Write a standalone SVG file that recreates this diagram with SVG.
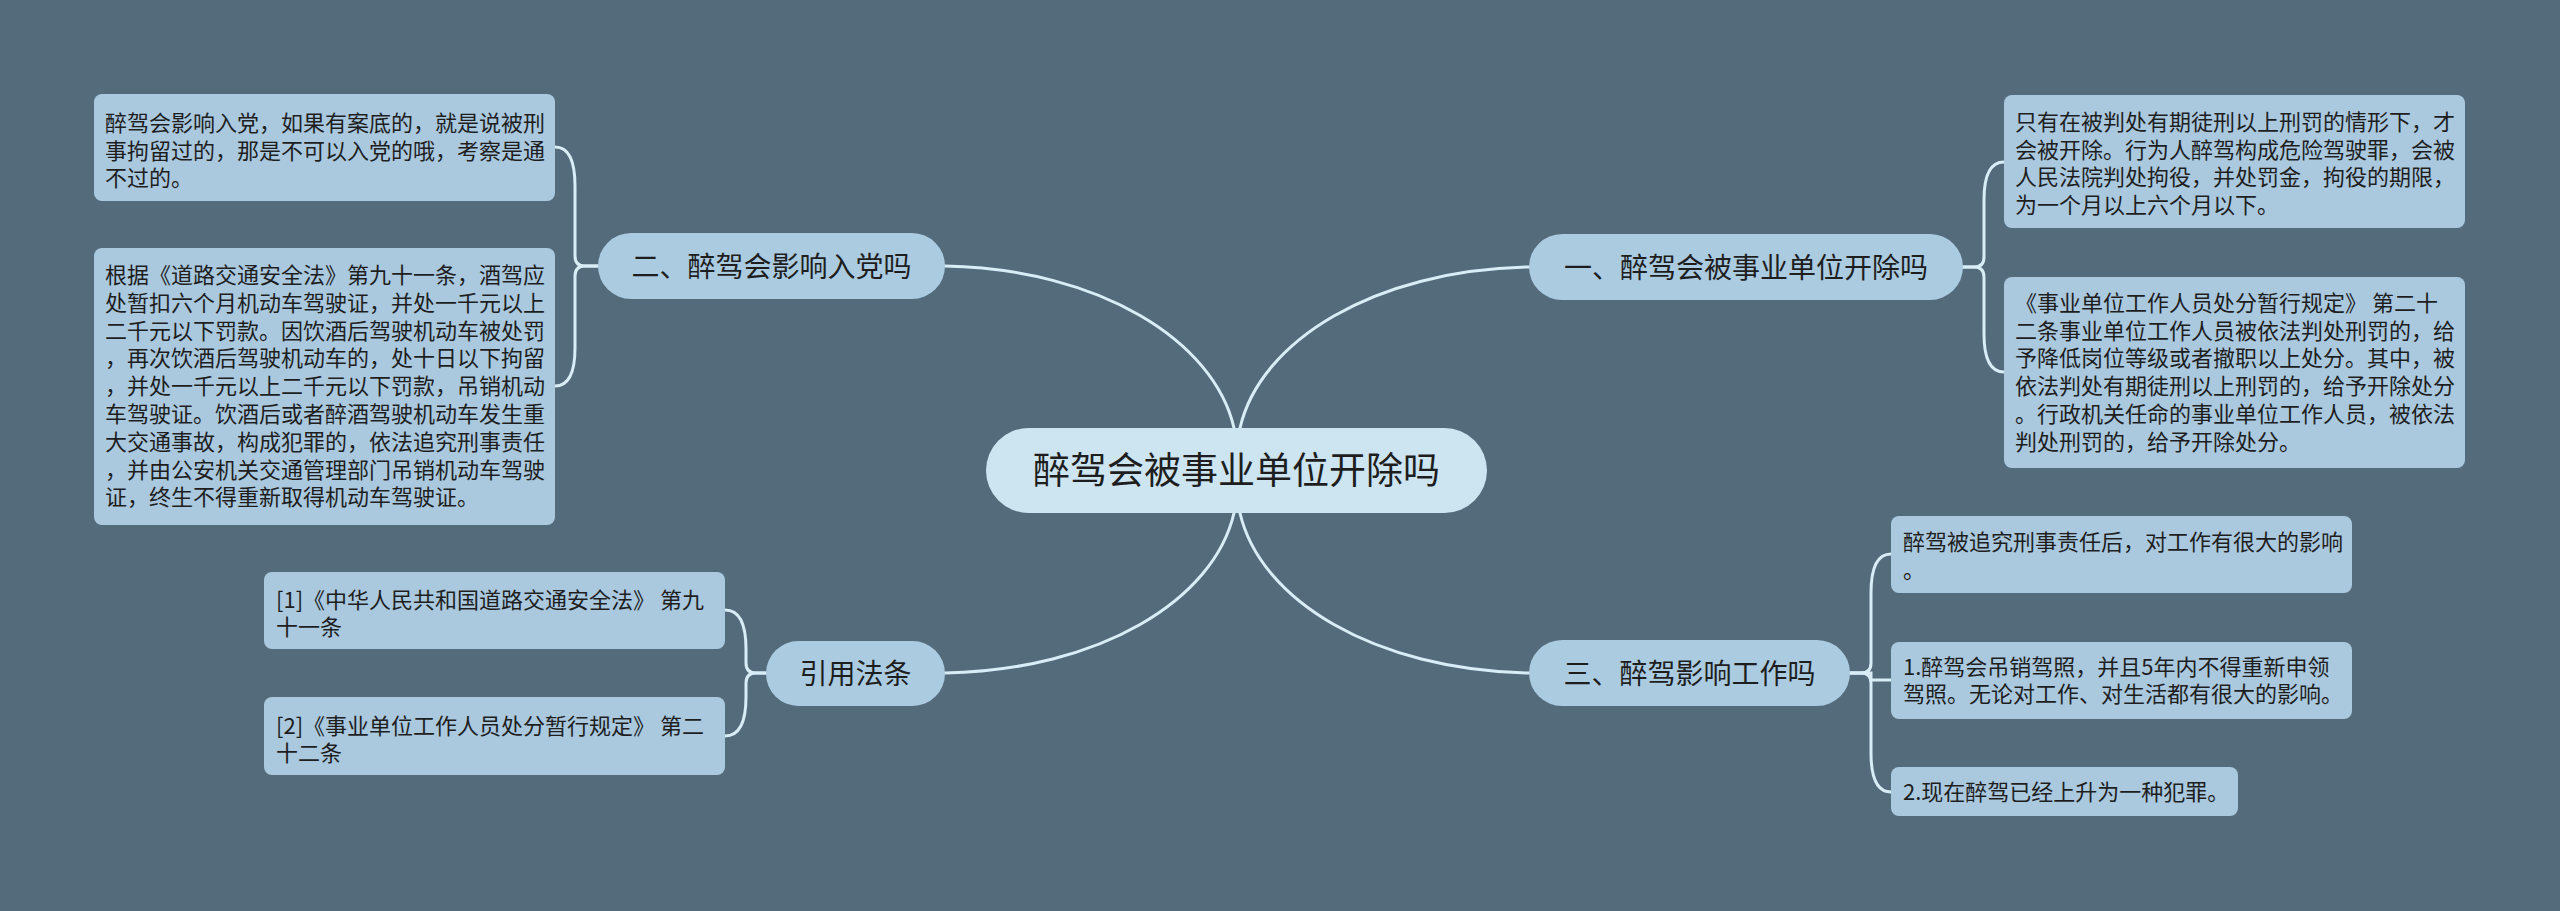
<svg xmlns="http://www.w3.org/2000/svg" width="2560" height="911" viewBox="0 0 2560 911">
<style>
.bg{fill:#546b7b}
.conn path{fill:none;stroke:#d9edf7;stroke-width:3;stroke-linecap:round}
.leaf rect{fill:#aac9df}
.l1 rect{fill:#abcbe1}
.root rect{fill:#cde4f1}
text{font-family:"Noto Sans CJK SC","Noto Sans",sans-serif;fill:#1e1e1e}
.leaf text{font-size:22px}
.l1 text{font-size:28px;text-anchor:middle}
.root text{font-size:37px;text-anchor:middle}
</style>
<rect class="bg" x="0" y="0" width="2560" height="911"/>
<g id="connectors" class="conn">
<path d="M1234 428 C1214 341 1100 269 945 266"/>
<path d="M1240 428 C1260 341 1374 270 1529 267"/>
<path d="M1234 513 C1214 600 1100 670 945 673"/>
<path d="M1240 513 C1260 600 1374 670 1529 673"/>
<path d="M598 266 H585 Q575 266 575 256 V186 C575 160 568 147 555 147"/>
<path d="M598 266 H585 Q575 266 575 276 V348 C575 374 568 386 555 386"/>
<path d="M1963 267 H1974 Q1984 267 1984 257 V200 C1984 174 1991 162 2004 162"/>
<path d="M1963 267 H1974 Q1984 267 1984 277 V334 C1984 360 1991 372 2004 372"/>
<path d="M1850 673 H1861 Q1871 673 1871 663 V593 C1871 567 1878 554 1891 554"/>
<path d="M1850 673 H1871 V680 H1891"/>
<path d="M1850 673 H1861 Q1871 673 1871 683 V753 C1871 779 1878 792 1891 792"/>
<path d="M766 673 H756 Q746 673 746 663 V649 C746 623 739 610 725 610"/>
<path d="M766 673 H756 Q746 673 746 683 V697 C746 723 739 736 725 736"/>
</g>
<g id="root" class="root">
<rect x="986" y="428" width="501" height="85" rx="42.5"/>
<text x="1236.5" y="484">醉驾会被事业单位开除吗</text>
</g>
<g id="n1" class="l1">
<rect x="1529" y="234" width="434" height="66" rx="33"/>
<text x="1746" y="277.5">一、醉驾会被事业单位开除吗</text>
</g>
<g id="n2" class="l1">
<rect x="598" y="233" width="347" height="66" rx="33"/>
<text x="771.5" y="276.5">二、醉驾会影响入党吗</text>
</g>
<g id="n3" class="l1">
<rect x="1529" y="640" width="321" height="66" rx="33"/>
<text x="1689.5" y="683.5">三、醉驾影响工作吗</text>
</g>
<g id="n4" class="l1">
<rect x="766" y="641" width="179" height="65" rx="32.5"/>
<text x="855.5" y="683.5">引用法条</text>
</g>
<g id="leaf-l1" class="leaf">
<rect x="94" y="94" width="461" height="107" rx="8"/>
<text x="105" y="131">醉驾会影响入党，如果有案底的，就是说被刑</text>
<text x="105" y="158.5">事拘留过的，那是不可以入党的哦，考察是通</text>
<text x="105" y="186">不过的。</text>
</g>
<g id="leaf-l2" class="leaf">
<rect x="94" y="248" width="461" height="277" rx="8"/>
<text x="105" y="283">根据《道路交通安全法》第九十一条，酒驾应</text>
<text x="105" y="310.8">处暂扣六个月机动车驾驶证，并处一千元以上</text>
<text x="105" y="338.6">二千元以下罚款。因饮酒后驾驶机动车被处罚</text>
<text x="105" y="366.4">，再次饮酒后驾驶机动车的，处十日以下拘留</text>
<text x="105" y="394.2">，并处一千元以上二千元以下罚款，吊销机动</text>
<text x="105" y="422">车驾驶证。饮酒后或者醉酒驾驶机动车发生重</text>
<text x="105" y="449.8">大交通事故，构成犯罪的，依法追究刑事责任</text>
<text x="105" y="477.6">，并由公安机关交通管理部门吊销机动车驾驶</text>
<text x="105" y="505.4">证，终生不得重新取得机动车驾驶证。</text>
</g>
<g id="leaf-l3" class="leaf">
<rect x="264" y="572" width="461" height="77" rx="8"/>
<text x="276" y="608">[1]《中华人民共和国道路交通安全法》 第九</text>
<text x="276" y="635">十一条</text>
</g>
<g id="leaf-l4" class="leaf">
<rect x="264" y="697" width="461" height="78" rx="8"/>
<text x="276" y="734">[2]《事业单位工作人员处分暂行规定》 第二</text>
<text x="276" y="761">十二条</text>
</g>
<g id="leaf-r1" class="leaf">
<rect x="2004" y="95" width="461" height="133" rx="8"/>
<text x="2015" y="130">只有在被判处有期徒刑以上刑罚的情形下，才</text>
<text x="2015" y="157.7">会被开除。行为人醉驾构成危险驾驶罪，会被</text>
<text x="2015" y="185.4">人民法院判处拘役，并处罚金，拘役的期限，</text>
<text x="2015" y="213.1">为一个月以上六个月以下。</text>
</g>
<g id="leaf-r2" class="leaf">
<rect x="2004" y="277" width="461" height="191" rx="8"/>
<text x="2015" y="311">《事业单位工作人员处分暂行规定》 第二十</text>
<text x="2015" y="338.7">二条事业单位工作人员被依法判处刑罚的，给</text>
<text x="2015" y="366.4">予降低岗位等级或者撤职以上处分。其中，被</text>
<text x="2015" y="394.1">依法判处有期徒刑以上刑罚的，给予开除处分</text>
<text x="2015" y="421.8">。行政机关任命的事业单位工作人员，被依法</text>
<text x="2015" y="449.5">判处刑罚的，给予开除处分。</text>
</g>
<g id="leaf-r3" class="leaf">
<rect x="1891" y="516" width="461" height="77" rx="8"/>
<text x="1903" y="550">醉驾被追究刑事责任后，对工作有很大的影响</text>
<text x="1903" y="578">。</text>
</g>
<g id="leaf-r4" class="leaf">
<rect x="1891" y="642" width="461" height="77" rx="8"/>
<text x="1903" y="675">1.醉驾会吊销驾照，并且5年内不得重新申领</text>
<text x="1903" y="702">驾照。无论对工作、对生活都有很大的影响。</text>
</g>
<g id="leaf-r5" class="leaf">
<rect x="1891" y="767" width="347" height="49" rx="8"/>
<text x="1903" y="800">2.现在醉驾已经上升为一种犯罪。</text>
</g>
</svg>
